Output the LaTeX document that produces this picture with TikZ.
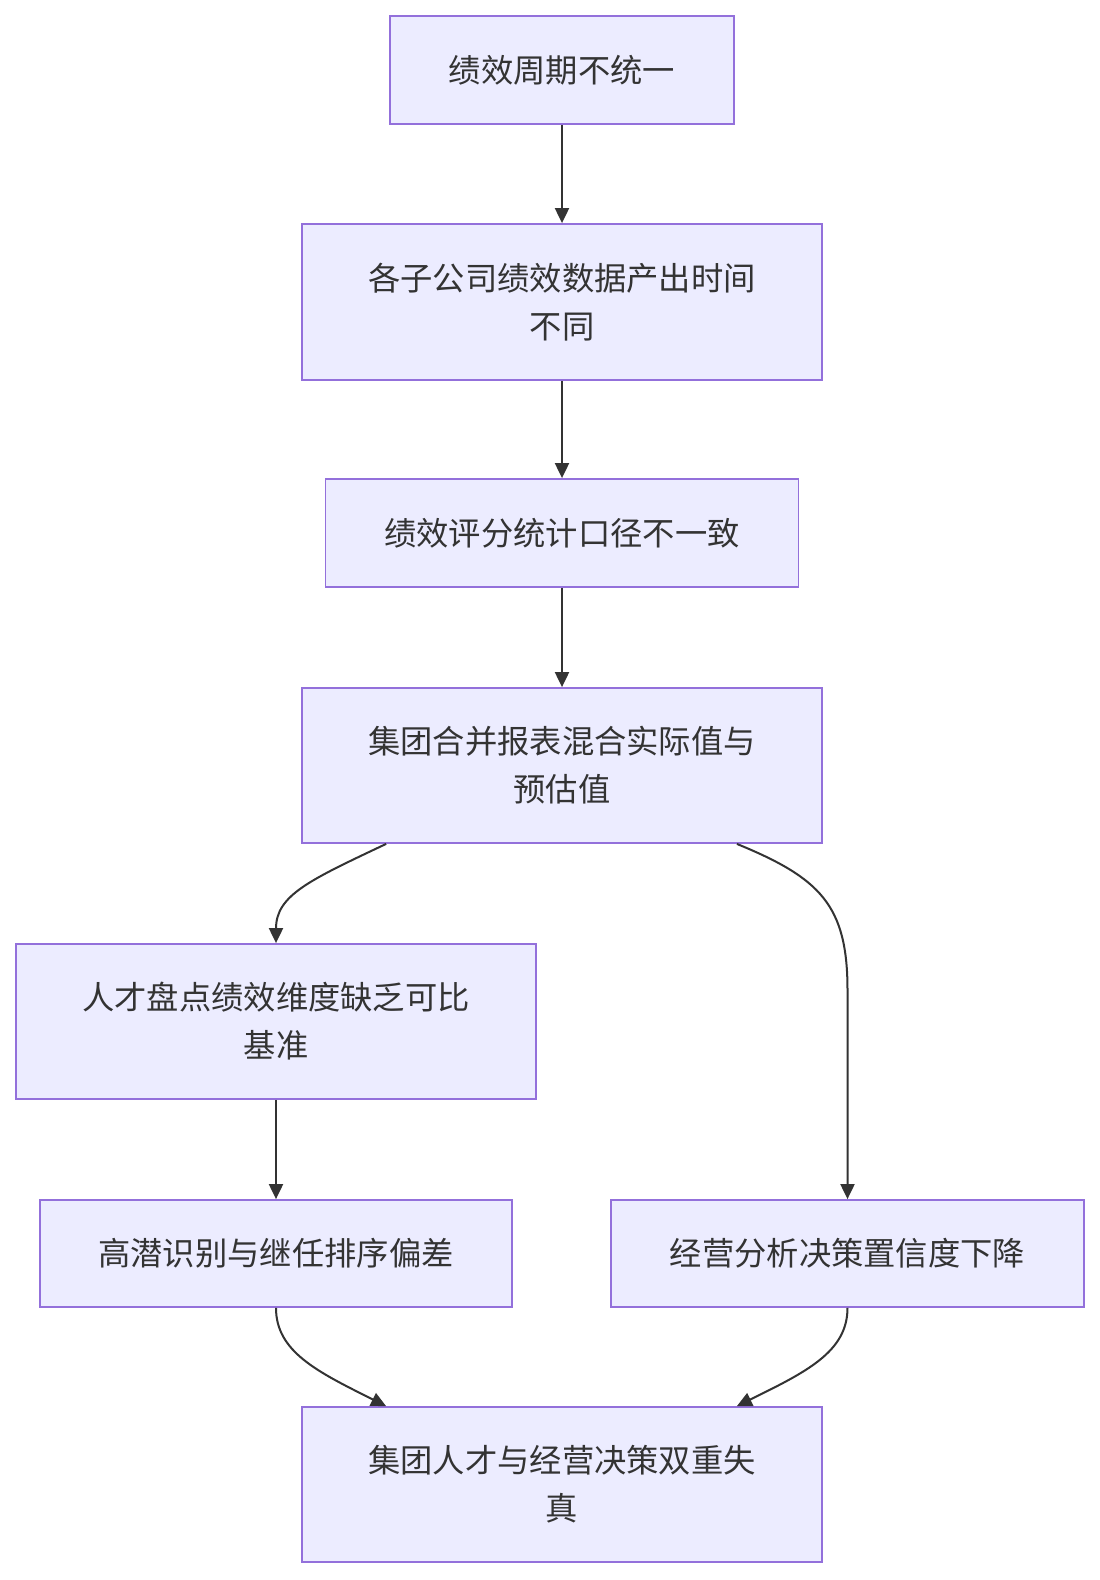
\documentclass[tikz,border=0pt]{standalone}
\usepackage{fontspec}
\newfontfamily\cjk{Noto Sans CJK SC}
\usetikzlibrary{arrows.meta}
\definecolor{nodefill}{HTML}{ECECFF}
\definecolor{nodeline}{HTML}{9370DB}
\definecolor{ink}{HTML}{333333}
\tikzset{
  box/.style={draw=nodeline, fill=nodefill, line width=1.8pt, rectangle,
    align=center, text=ink, inner sep=0pt,
    font=\cjk\fontsize{32.3}{48}\selectfont},
  link/.style={draw=ink, line width=2pt, -{Triangle[length=15pt,width=14pt]}}
}
\begin{document}
\begin{tikzpicture}[x=1pt,y=-1pt]
\useasboundingbox[fill=white] (0,0) rectangle (1100,1580);
\node[box, minimum width=344pt, minimum height=108pt] (n1) at (562,70) {绩效周期不统一};
\node[box, minimum width=520pt, minimum height=156pt] (n2) at (562,302) {各子公司绩效数据产出时间\\不同};
\node[box, minimum width=473pt, minimum height=108pt] (n3) at (562,533) {绩效评分统计口径不一致};
\node[box, minimum width=520pt, minimum height=155pt] (n4) at (562,765.5) {集团合并报表混合实际值与\\预估值};
\node[box, minimum width=520pt, minimum height=155pt] (n5) at (276,1021.5) {人才盘点绩效维度缺乏可比\\基准};
\node[box, minimum width=472pt, minimum height=107pt] (n6) at (276,1253.5) {高潜识别与继任排序偏差};
\node[box, minimum width=473pt, minimum height=107pt] (n7) at (847.5,1253.5) {经营分析决策置信度下降};
\node[box, minimum width=520pt, minimum height=155pt] (n8) at (562,1484.5) {集团人才与经营决策双重失\\真};

\draw[link] (n1.south) -- (n2.north);
\draw[link] (n2.south) -- (n3.north);
\draw[link] (n3.south) -- (n4.north);
\draw[link] ([xshift=85pt]n4.south west) .. controls (310,880) and (276,895) .. (n5.north);
\draw[link] ([xshift=-86pt]n4.south east) .. controls (820,878) and (847.5,905) .. (847.5,990) -- (n7.north);
\draw[link] (n5.south) -- (n6.north);
\draw[link] (n6.south) .. controls (276,1352) and (318,1372) .. ([xshift=85pt]n8.north west);
\draw[link] (n7.south) .. controls (847.5,1352) and (806,1372) .. ([xshift=-86pt]n8.north east);
\end{tikzpicture}
\end{document}
